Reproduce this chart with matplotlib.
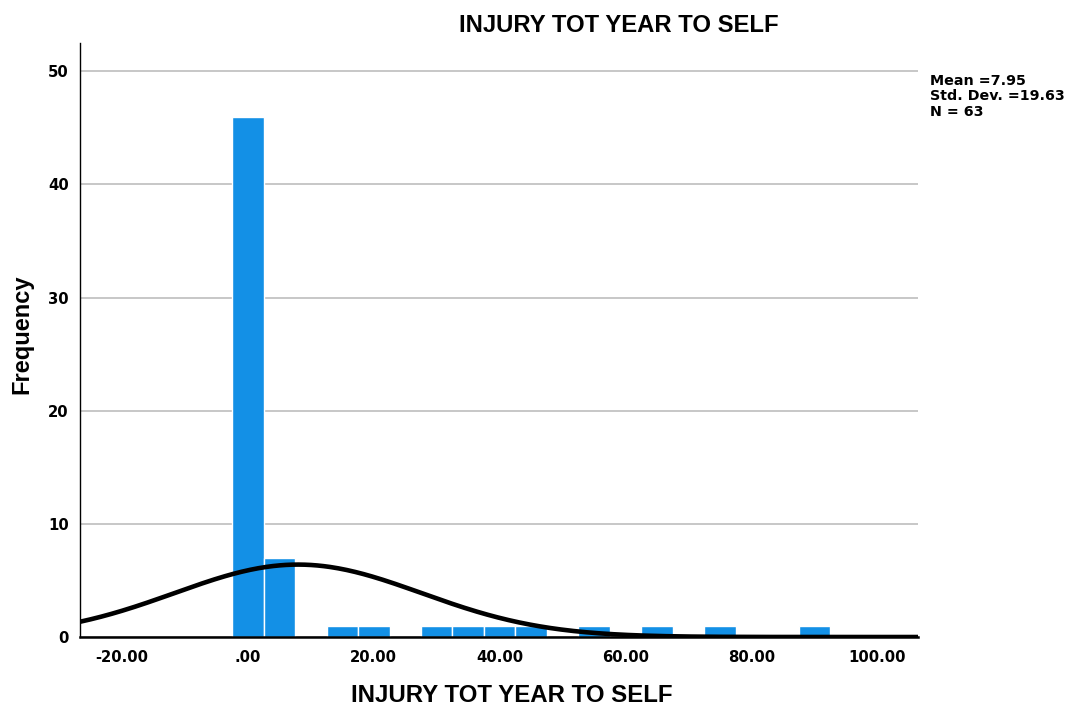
import numpy as np
import matplotlib.pyplot as plt

plt.rcParams['font.family'] = ['Liberation Sans', 'DejaVu Sans']

# Histogram bins (bin centre, width 5) and counts
bin_centers = [0, 5, 15, 20, 30, 35, 40, 45, 55, 65, 75, 90]
counts = [46, 7, 1, 1, 1, 1, 1, 1, 1, 1, 1, 1]
bin_width = 5.0

# Summary statistics shown on the chart
mean = 7.95
std = 19.63
n = 63

x_ticks = [-20, 0, 20, 40, 60, 80, 100]
x_tick_labels = ["-20.00", ".00", "20.00", "40.00", "60.00", "80.00", "100.00"]
y_ticks = [0, 10, 20, 30, 40, 50]

fig = plt.figure(figsize=(10.68, 7.10), dpi=100)
ax = fig.add_axes([0.0749, 0.1028, 0.7847, 0.8366])

ax.bar(bin_centers, counts, width=bin_width, color="#1390e6",
       edgecolor="white", linewidth=1.0, zorder=2)

# normal curve scaled to counts
xs = np.linspace(-26.7, 106.5, 400)
ys = n * bin_width / (std * np.sqrt(2 * np.pi)) * np.exp(-0.5 * ((xs - mean) / std) ** 2)
ax.plot(xs, ys, color="black", linewidth=3.3, zorder=3, solid_capstyle="round")

ax.set_xlim(-26.7, 106.5)
ax.set_ylim(0, 52.5)
ax.set_yticks(y_ticks)
ax.set_xticks(x_ticks)
ax.set_xticklabels(x_tick_labels)
ax.yaxis.grid(True, color="#bdbdbd", linewidth=1.2, zorder=0)
ax.set_axisbelow(True)

for s in ["top", "right"]:
    ax.spines[s].set_visible(False)
ax.spines["left"].set_linewidth(1.0)
ax.spines["bottom"].set_linewidth(1.8)
ax.tick_params(axis="x", length=0, pad=9)
ax.tick_params(axis="y", length=0, pad=8)
for lab in ax.get_xticklabels() + ax.get_yticklabels():
    lab.set_fontweight("bold")
    lab.set_fontfamily("DejaVu Sans")
    lab.set_fontsize(10.7)

# title and axis titles
fig.text(619 / 1068, 1 - 25 / 710, "INJURY TOT YEAR TO SELF", fontsize=17.2,
         fontweight="bold", ha="center", va="center")
fig.text(512 / 1068, 1 - 695 / 710, "INJURY TOT YEAR TO SELF", fontsize=17.3,
         fontweight="bold", ha="center", va="center")
fig.text(22 / 1068, 1 - 334 / 710, "Frequency", fontsize=17, fontweight="bold",
         ha="center", va="center", rotation=90)

fig.text(0.871, 1 - 74 / 710, "Mean =7.95\nStd. Dev. =19.63\nN = 63", fontsize=10.3,
         fontweight="bold", family="DejaVu Sans", va="top", ha="left",
         linespacing=1.12)

fig.savefig("out.png", dpi=100)
